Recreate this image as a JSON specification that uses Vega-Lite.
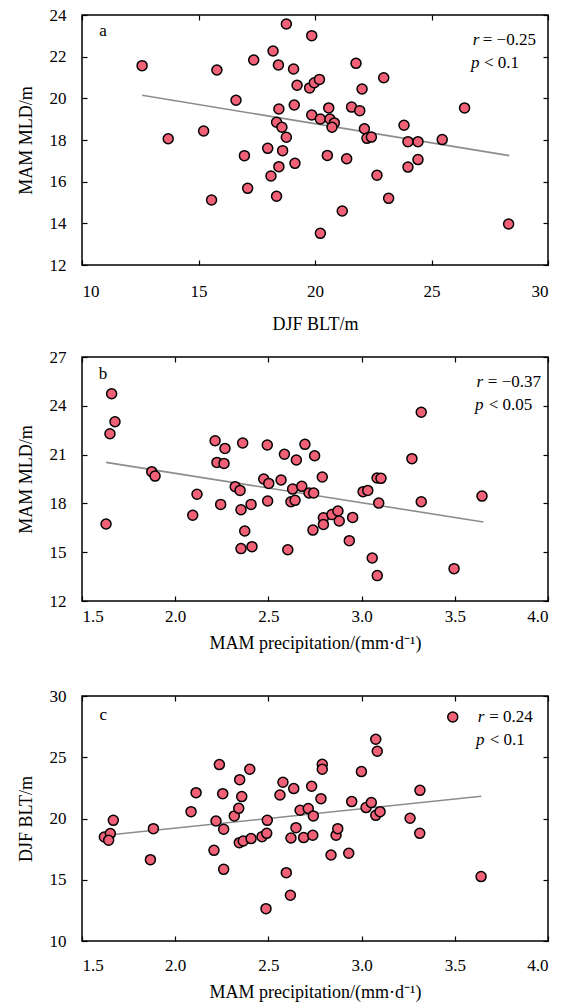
{
  "$schema": "https://vega.github.io/schema/vega-lite/v6.json",
  "padding": {"top": 5, "left": 16, "right": 5, "bottom": 5},
  "background": "white",
  "datasets": {
    "a": [
      {"blt": 12.58, "mld": 21.57}, {"blt": 13.70, "mld": 18.06}, {"blt": 15.22, "mld": 18.43}, {"blt": 15.56, "mld": 15.12},
      {"blt": 15.79, "mld": 21.36}, {"blt": 16.61, "mld": 19.91}, {"blt": 16.97, "mld": 17.25}, {"blt": 17.11, "mld": 15.68},
      {"blt": 17.37, "mld": 21.84}, {"blt": 17.97, "mld": 17.60}, {"blt": 18.11, "mld": 16.27}, {"blt": 18.20, "mld": 22.27},
      {"blt": 18.35, "mld": 15.30}, {"blt": 18.35, "mld": 18.85}, {"blt": 18.43, "mld": 21.60}, {"blt": 18.45, "mld": 19.49},
      {"blt": 18.45, "mld": 16.72}, {"blt": 18.58, "mld": 18.61}, {"blt": 18.61, "mld": 17.49}, {"blt": 18.77, "mld": 18.13},
      {"blt": 18.77, "mld": 23.57}, {"blt": 19.08, "mld": 21.41}, {"blt": 19.11, "mld": 19.68}, {"blt": 19.14, "mld": 16.88},
      {"blt": 19.23, "mld": 20.63}, {"blt": 19.77, "mld": 20.50}, {"blt": 19.86, "mld": 23.01}, {"blt": 19.86, "mld": 19.20},
      {"blt": 19.97, "mld": 20.75}, {"blt": 20.19, "mld": 20.91}, {"blt": 20.23, "mld": 13.52}, {"blt": 20.23, "mld": 19.01},
      {"blt": 20.59, "mld": 19.54}, {"blt": 20.64, "mld": 19.01}, {"blt": 20.83, "mld": 18.82}, {"blt": 20.73, "mld": 18.61},
      {"blt": 20.53, "mld": 17.26}, {"blt": 21.17, "mld": 14.59}, {"blt": 21.36, "mld": 17.10}, {"blt": 21.57, "mld": 19.58},
      {"blt": 21.76, "mld": 21.68}, {"blt": 21.92, "mld": 19.41}, {"blt": 22.02, "mld": 20.45}, {"blt": 22.12, "mld": 18.54},
      {"blt": 22.23, "mld": 18.08}, {"blt": 22.42, "mld": 18.14}, {"blt": 22.66, "mld": 16.31}, {"blt": 22.95, "mld": 20.99},
      {"blt": 23.16, "mld": 15.20}, {"blt": 23.82, "mld": 18.71}, {"blt": 23.99, "mld": 16.70}, {"blt": 23.99, "mld": 17.92},
      {"blt": 24.42, "mld": 17.92}, {"blt": 24.42, "mld": 17.06}, {"blt": 25.46, "mld": 18.02}, {"blt": 26.42, "mld": 19.54},
      {"blt": 28.31, "mld": 13.97}
    ],
    "b": [
      {"pre": 1.659, "mld": 24.74}, {"pre": 1.677, "mld": 23.02}, {"pre": 1.650, "mld": 22.28}, {"pre": 1.629, "mld": 16.73},
      {"pre": 1.874, "mld": 19.95}, {"pre": 1.892, "mld": 19.68}, {"pre": 2.117, "mld": 18.56}, {"pre": 2.094, "mld": 17.27},
      {"pre": 2.214, "mld": 21.85}, {"pre": 2.267, "mld": 21.38}, {"pre": 2.224, "mld": 20.52}, {"pre": 2.262, "mld": 20.46},
      {"pre": 2.244, "mld": 17.94}, {"pre": 2.322, "mld": 19.03}, {"pre": 2.348, "mld": 18.80}, {"pre": 2.362, "mld": 21.71},
      {"pre": 2.353, "mld": 17.61}, {"pre": 2.407, "mld": 17.94}, {"pre": 2.373, "mld": 16.30}, {"pre": 2.353, "mld": 15.22},
      {"pre": 2.412, "mld": 15.34}, {"pre": 2.475, "mld": 19.50}, {"pre": 2.502, "mld": 19.23}, {"pre": 2.496, "mld": 18.15},
      {"pre": 2.494, "mld": 21.59}, {"pre": 2.568, "mld": 19.44}, {"pre": 2.586, "mld": 21.02}, {"pre": 2.604, "mld": 15.15},
      {"pre": 2.650, "mld": 20.67}, {"pre": 2.630, "mld": 18.88}, {"pre": 2.621, "mld": 18.10}, {"pre": 2.643, "mld": 18.19},
      {"pre": 2.679, "mld": 19.05}, {"pre": 2.696, "mld": 21.63}, {"pre": 2.718, "mld": 18.64}, {"pre": 2.743, "mld": 18.64},
      {"pre": 2.748, "mld": 20.93}, {"pre": 2.739, "mld": 16.36}, {"pre": 2.789, "mld": 19.62}, {"pre": 2.795, "mld": 17.12},
      {"pre": 2.795, "mld": 16.71}, {"pre": 2.841, "mld": 17.31}, {"pre": 2.873, "mld": 17.53}, {"pre": 2.880, "mld": 16.92},
      {"pre": 2.934, "mld": 15.71}, {"pre": 2.952, "mld": 17.14}, {"pre": 3.008, "mld": 18.72}, {"pre": 3.033, "mld": 18.80},
      {"pre": 3.057, "mld": 14.64}, {"pre": 3.084, "mld": 13.56}, {"pre": 3.092, "mld": 18.02}, {"pre": 3.083, "mld": 19.56},
      {"pre": 3.104, "mld": 19.54}, {"pre": 3.270, "mld": 20.75}, {"pre": 3.320, "mld": 23.60}, {"pre": 3.320, "mld": 18.10},
      {"pre": 3.496, "mld": 13.99}, {"pre": 3.646, "mld": 18.45}
    ],
    "c": [
      {"pre": 1.620, "blt": 18.49}, {"pre": 1.652, "blt": 18.77}, {"pre": 1.643, "blt": 18.22}, {"pre": 1.668, "blt": 19.85},
      {"pre": 1.883, "blt": 19.17}, {"pre": 1.867, "blt": 16.64}, {"pre": 2.085, "blt": 20.56}, {"pre": 2.112, "blt": 22.11},
      {"pre": 2.237, "blt": 24.40}, {"pre": 2.255, "blt": 22.03}, {"pre": 2.219, "blt": 19.80}, {"pre": 2.260, "blt": 19.12},
      {"pre": 2.208, "blt": 17.40}, {"pre": 2.260, "blt": 15.85}, {"pre": 2.317, "blt": 20.21}, {"pre": 2.341, "blt": 20.83},
      {"pre": 2.357, "blt": 21.79}, {"pre": 2.346, "blt": 23.17}, {"pre": 2.400, "blt": 24.02}, {"pre": 2.344, "blt": 18.03},
      {"pre": 2.365, "blt": 18.16}, {"pre": 2.407, "blt": 18.36}, {"pre": 2.466, "blt": 18.52}, {"pre": 2.491, "blt": 18.79},
      {"pre": 2.494, "blt": 19.85}, {"pre": 2.487, "blt": 12.64}, {"pre": 2.562, "blt": 21.92}, {"pre": 2.578, "blt": 22.96},
      {"pre": 2.636, "blt": 22.44}, {"pre": 2.596, "blt": 15.58}, {"pre": 2.618, "blt": 13.73}, {"pre": 2.621, "blt": 18.41},
      {"pre": 2.648, "blt": 19.25}, {"pre": 2.670, "blt": 20.67}, {"pre": 2.689, "blt": 18.44}, {"pre": 2.714, "blt": 20.81},
      {"pre": 2.732, "blt": 22.63}, {"pre": 2.741, "blt": 20.21}, {"pre": 2.738, "blt": 18.63}, {"pre": 2.789, "blt": 24.42},
      {"pre": 2.789, "blt": 24.02}, {"pre": 2.782, "blt": 21.62}, {"pre": 2.836, "blt": 17.02}, {"pre": 2.863, "blt": 18.63},
      {"pre": 2.872, "blt": 19.17}, {"pre": 2.931, "blt": 17.16}, {"pre": 2.947, "blt": 21.38}, {"pre": 2.999, "blt": 23.83},
      {"pre": 3.024, "blt": 20.89}, {"pre": 3.052, "blt": 21.30}, {"pre": 3.076, "blt": 20.26}, {"pre": 3.099, "blt": 20.56},
      {"pre": 3.076, "blt": 26.47}, {"pre": 3.084, "blt": 25.49}, {"pre": 3.260, "blt": 20.02}, {"pre": 3.313, "blt": 22.30},
      {"pre": 3.312, "blt": 18.79}, {"pre": 3.641, "blt": 15.26}
    ],
    "fitA": [{"x": 12.58, "y": 20.15}, {"x": 28.34, "y": 17.25}],
    "fitB": [{"x": 1.629, "y": 20.52}, {"x": 3.653, "y": 16.86}],
    "fitC": [{"x": 1.643, "y": 18.65}, {"x": 3.642, "y": 21.81}],
    "one": [{}]
  },
  "spacing": 13,
  "vconcat": [
    {
      "width": 466, "height": 250,
      "layer": [
        {
          "data": {"name": "fitA"},
          "mark": {"type": "line", "color": "#8c8c8c", "strokeWidth": 1.6},
          "encoding": {
            "x": {"field": "x", "type": "quantitative", "scale": {"domain": [10, 30], "nice": false, "zero": false},
                  "axis": {"orient": "top", "labels": false, "title": null, "values": [10, 15, 20, 25, 30]}},
            "y": {"field": "y", "type": "quantitative", "scale": {"domain": [12, 24], "nice": false, "zero": false},
                  "axis": {"orient": "right", "labels": false, "title": null, "values": [12, 14, 16, 18, 20, 22, 24]}}
          }
        },
        {
          "data": {"name": "a"},
          "mark": {"type": "circle", "color": "#F06076", "stroke": "black", "strokeWidth": 1.5, "size": 100, "opacity": 1},
          "encoding": {
            "x": {"field": "blt", "type": "quantitative",
                  "axis": {"orient": "bottom", "title": "DJF BLT/m", "values": [10, 15, 20, 25, 30], "labelPadding": 23, "titlePadding": 16}},
            "y": {"field": "mld", "type": "quantitative",
                  "axis": {"orient": "left", "title": "MAM MLD/m", "values": [12, 14, 16, 18, 20, 22, 24], "labelPadding": 21, "titlePadding": 14}}
          }
        },
        {"data": {"name": "one"}, "mark": {"type": "text", "text": "a", "align": "center", "baseline": "middle"},
         "encoding": {"x": {"datum": 10.9, "type": "quantitative", "axis": null}, "y": {"datum": 23.23, "type": "quantitative", "axis": null}}},
        {"data": {"name": "one"}, "mark": {"type": "text", "text": "r", "fontStyle": "italic", "align": "left", "baseline": "middle"},
         "encoding": {"x": {"datum": 26.77, "type": "quantitative", "axis": null}, "y": {"datum": 22.80, "type": "quantitative", "axis": null}}},
        {"data": {"name": "one"}, "mark": {"type": "text", "text": "= −0.25", "align": "left", "baseline": "middle"},
         "encoding": {"x": {"datum": 27.20, "type": "quantitative", "axis": null}, "y": {"datum": 22.80, "type": "quantitative", "axis": null}}},
        {"data": {"name": "one"}, "mark": {"type": "text", "text": "p", "fontStyle": "italic", "align": "left", "baseline": "middle"},
         "encoding": {"x": {"datum": 26.70, "type": "quantitative", "axis": null}, "y": {"datum": 21.70, "type": "quantitative", "axis": null}}},
        {"data": {"name": "one"}, "mark": {"type": "text", "text": "< 0.1", "align": "left", "baseline": "middle"},
         "encoding": {"x": {"datum": 27.25, "type": "quantitative", "axis": null}, "y": {"datum": 21.70, "type": "quantitative", "axis": null}}}
      ],
      "resolve": {"axis": {"x": "independent", "y": "independent"}}
    },
    {
      "spacing": 33,
      "vconcat": [
        {
          "width": 466, "height": 244,
          "layer": [
            {
              "data": {"name": "fitB"},
              "mark": {"type": "line", "color": "#8c8c8c", "strokeWidth": 1.6},
              "encoding": {
                "x": {"field": "x", "type": "quantitative", "scale": {"domain": [1.5, 4.0], "nice": false, "zero": false},
                      "axis": {"orient": "top", "labels": false, "title": null, "values": [1.5, 2.0, 2.5, 3.0, 3.5, 4.0]}},
                "y": {"field": "y", "type": "quantitative", "scale": {"domain": [12, 27], "nice": false, "zero": false},
                      "axis": {"orient": "right", "labels": false, "title": null, "values": [12, 15, 18, 21, 24, 27]}}
              }
            },
            {
              "data": {"name": "b"},
              "mark": {"type": "circle", "color": "#F06076", "stroke": "black", "strokeWidth": 1.5, "size": 100, "opacity": 1},
              "encoding": {
                "x": {"field": "pre", "type": "quantitative",
                      "axis": {"orient": "bottom", "title": "MAM precipitation/(mm·d⁻¹)", "values": [1.5, 2.0, 2.5, 3.0, 3.5, 4.0], "format": ".1f", "labelPadding": 12, "titlePadding": 10}},
                "y": {"field": "mld", "type": "quantitative",
                      "axis": {"orient": "left", "title": "MAM MLD/m", "values": [12, 15, 18, 21, 24, 27], "labelPadding": 21, "titlePadding": 14}}
              }
            },
            {"data": {"name": "one"}, "mark": {"type": "text", "text": "b", "align": "center", "baseline": "middle"},
             "encoding": {"x": {"datum": 1.613, "type": "quantitative", "axis": null}, "y": {"datum": 25.95, "type": "quantitative", "axis": null}}},
            {"data": {"name": "one"}, "mark": {"type": "text", "text": "r", "fontStyle": "italic", "align": "left", "baseline": "middle"},
             "encoding": {"x": {"datum": 3.617, "type": "quantitative", "axis": null}, "y": {"datum": 25.44, "type": "quantitative", "axis": null}}},
            {"data": {"name": "one"}, "mark": {"type": "text", "text": "= −0.37", "align": "left", "baseline": "middle"},
             "encoding": {"x": {"datum": 3.677, "type": "quantitative", "axis": null}, "y": {"datum": 25.44, "type": "quantitative", "axis": null}}},
            {"data": {"name": "one"}, "mark": {"type": "text", "text": "p", "fontStyle": "italic", "align": "left", "baseline": "middle"},
             "encoding": {"x": {"datum": 3.608, "type": "quantitative", "axis": null}, "y": {"datum": 24.05, "type": "quantitative", "axis": null}}},
            {"data": {"name": "one"}, "mark": {"type": "text", "text": "< 0.05", "align": "left", "baseline": "middle"},
             "encoding": {"x": {"datum": 3.682, "type": "quantitative", "axis": null}, "y": {"datum": 24.05, "type": "quantitative", "axis": null}}}
          ],
          "resolve": {"axis": {"x": "independent", "y": "independent"}}
        },
        {
          "width": 466, "height": 245,
          "layer": [
            {
              "data": {"name": "fitC"},
              "mark": {"type": "line", "color": "#8c8c8c", "strokeWidth": 1.6},
              "encoding": {
                "x": {"field": "x", "type": "quantitative", "scale": {"domain": [1.5, 4.0], "nice": false, "zero": false},
                      "axis": {"orient": "top", "labels": false, "title": null, "values": [1.5, 2.0, 2.5, 3.0, 3.5, 4.0]}},
                "y": {"field": "y", "type": "quantitative", "scale": {"domain": [10, 30], "nice": false, "zero": false},
                      "axis": {"orient": "right", "labels": false, "title": null, "values": [10, 15, 20, 25, 30]}}
              }
            },
            {
              "data": {"name": "c"},
              "mark": {"type": "circle", "color": "#F06076", "stroke": "black", "strokeWidth": 1.5, "size": 100, "opacity": 1},
              "encoding": {
                "x": {"field": "pre", "type": "quantitative",
                      "axis": {"orient": "bottom", "title": "MAM precipitation/(mm·d⁻¹)", "values": [1.5, 2.0, 2.5, 3.0, 3.5, 4.0], "format": ".1f", "labelPadding": 21, "titlePadding": 10}},
                "y": {"field": "blt", "type": "quantitative",
                      "axis": {"orient": "left", "title": "DJF BLT/m", "values": [10, 15, 20, 25, 30], "labelPadding": 21, "titlePadding": 14}}
              }
            },
            {"data": {"name": "one"}, "mark": {"type": "circle", "color": "#F06076", "stroke": "black", "strokeWidth": 1.5, "size": 100, "opacity": 1},
             "encoding": {"x": {"datum": 3.489, "type": "quantitative", "axis": null}, "y": {"datum": 28.29, "type": "quantitative", "axis": null}}},
            {"data": {"name": "one"}, "mark": {"type": "text", "text": "c", "align": "center", "baseline": "middle"},
             "encoding": {"x": {"datum": 1.614, "type": "quantitative", "axis": null}, "y": {"datum": 28.42, "type": "quantitative", "axis": null}}},
            {"data": {"name": "one"}, "mark": {"type": "text", "text": "r", "fontStyle": "italic", "align": "left", "baseline": "middle"},
             "encoding": {"x": {"datum": 3.623, "type": "quantitative", "axis": null}, "y": {"datum": 28.29, "type": "quantitative", "axis": null}}},
            {"data": {"name": "one"}, "mark": {"type": "text", "text": "= 0.24", "align": "left", "baseline": "middle"},
             "encoding": {"x": {"datum": 3.685, "type": "quantitative", "axis": null}, "y": {"datum": 28.29, "type": "quantitative", "axis": null}}},
            {"data": {"name": "one"}, "mark": {"type": "text", "text": "p", "fontStyle": "italic", "align": "left", "baseline": "middle"},
             "encoding": {"x": {"datum": 3.614, "type": "quantitative", "axis": null}, "y": {"datum": 26.38, "type": "quantitative", "axis": null}}},
            {"data": {"name": "one"}, "mark": {"type": "text", "text": "< 0.1", "align": "left", "baseline": "middle"},
             "encoding": {"x": {"datum": 3.687, "type": "quantitative", "axis": null}, "y": {"datum": 26.38, "type": "quantitative", "axis": null}}}
          ],
          "resolve": {"axis": {"x": "independent", "y": "independent"}}
        }
      ]
    }
  ],
  "config": {
    "font": "Liberation Serif",
    "view": {"stroke": "black", "strokeWidth": 1.5},
    "axis": {
      "domain": false, "grid": false,
      "tickColor": "black", "tickSize": -5, "tickWidth": 1.2,
      "labelFont": "Liberation Serif", "labelFontSize": 17, "labelColor": "black",
      "titleFont": "Liberation Serif", "titleFontSize": 18, "titleFontWeight": "normal", "titleColor": "black"
    },
    "text": {"font": "Liberation Serif", "fontSize": 17, "color": "black"}
  }
}
